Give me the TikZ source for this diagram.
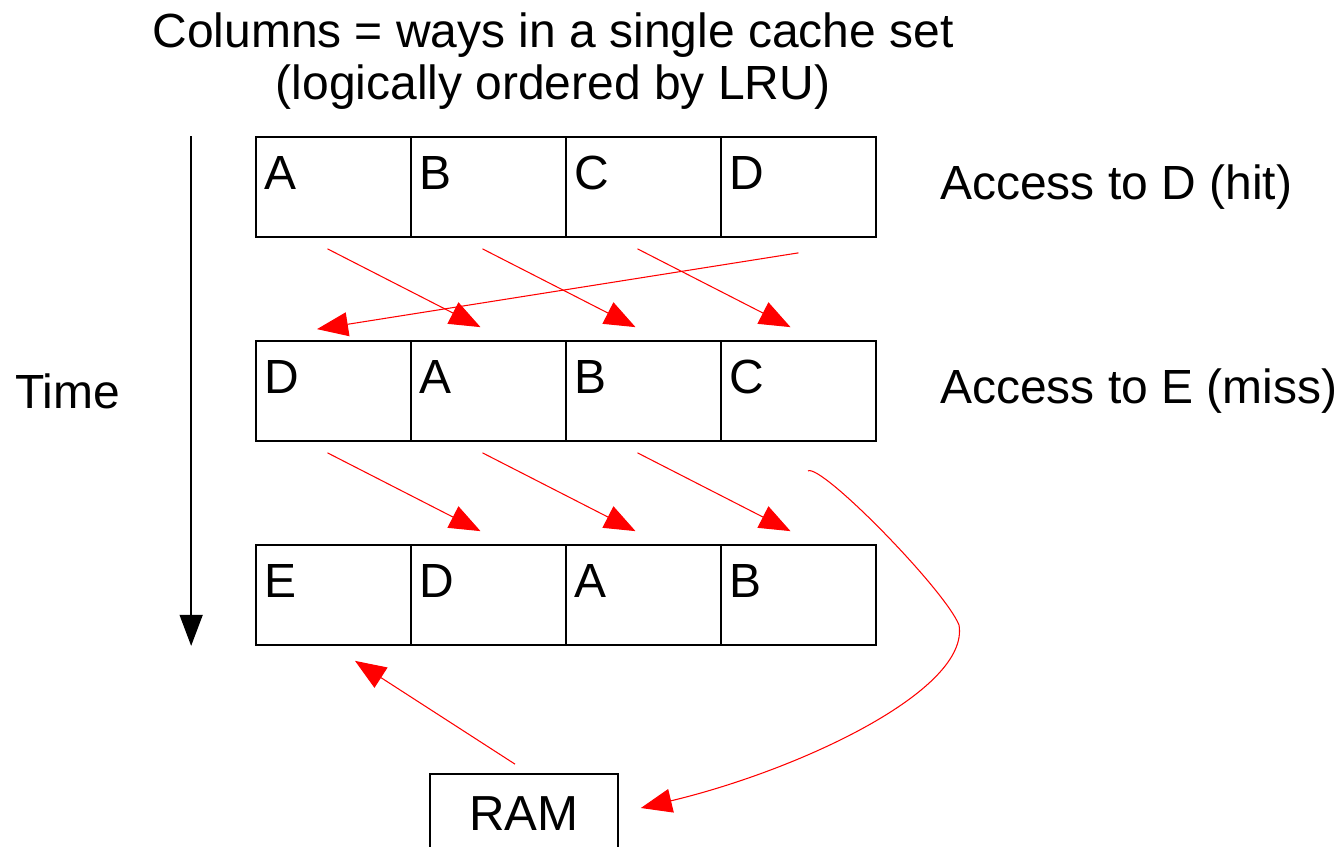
\documentclass[tikz,border=0pt]{standalone}
\usepackage{fontspec}
\setmainfont{Liberation Sans}
\usetikzlibrary{arrows.meta}

\tikzset{
  cell/.style={draw, line width=1pt, minimum width=3.1cm, minimum height=2cm, inner sep=0pt},
  letter/.style={anchor=north west, inner sep=0pt, xshift=0.18cm, yshift=-0.4cm},
  move/.style={red, line width=0.6pt, -{Triangle[length=0.62cm,width=0.48cm]}},
  caption/.style={anchor=west, inner sep=0pt},
}

\begin{document}
\begin{tikzpicture}[x=0.02cm, y=-0.02cm, every node/.style={font=\fontsize{27.3}{30}\selectfont}]
\useasboundingbox (0,0) rectangle (1338,847);

\node[align=center] (title) at (553,61) {Columns = ways in a single cache set\\(logically ordered by LRU)};

\foreach \row/\y/\ways in {1/187/{A,B,C,D}, 2/391/{D,A,B,C}, 3/595/{E,D,A,B}}
  \foreach \tag [count=\col] in \ways
    \node[cell, label={[letter]north west:\tag}] (r\row-\col) at ({333.5+155*(\col-1)},\y) {};

\node[caption] (hit) at (940,187) {Access to D (hit)};
\node[caption] (miss) at (940,391) {Access to E (miss)};
\node[caption] (time) at (15,391) {Time};
\node[draw, line width=1pt, minimum width=3.76cm, minimum height=1.6cm, font=\fontsize{28}{32}\selectfont] (ram) at (524,814) {RAM};

\draw[line width=0.8pt, -{Triangle[length=0.62cm,width=0.46cm]}] ([xshift=-1.28cm]r1-1.north west) -- ([xshift=-1.28cm]r3-1.south west);

\foreach \rb/\rn in {1/2, 2/3}
  \foreach \cb/\cn in {1/2, 2/3, 3/4}
    \draw[move] ([xshift=-0.12cm,yshift=-0.22cm]r\rb-\cb.south) -- ([xshift=-0.16cm,yshift=0.26cm]r\rn-\cn.north);
\draw[move] ([yshift=-0.3cm]r1-4.south) -- ([xshift=-0.33cm,yshift=0.22cm]r2-1.north);

\coordinate (bend) at (959,625);
\draw[move] ([xshift=0.19cm,yshift=-0.58cm]r2-4.south) .. controls (822,464) and (945,590) .. (bend)
  .. controls (970,690) and (800,770) .. ([xshift=0.44cm,yshift=0.12cm]ram.east);
\draw[move] ([xshift=-0.18cm,yshift=0.18cm]ram.north) -- ([xshift=0.43cm,yshift=-0.3cm]r3-1.south);
\end{tikzpicture}
\end{document}
